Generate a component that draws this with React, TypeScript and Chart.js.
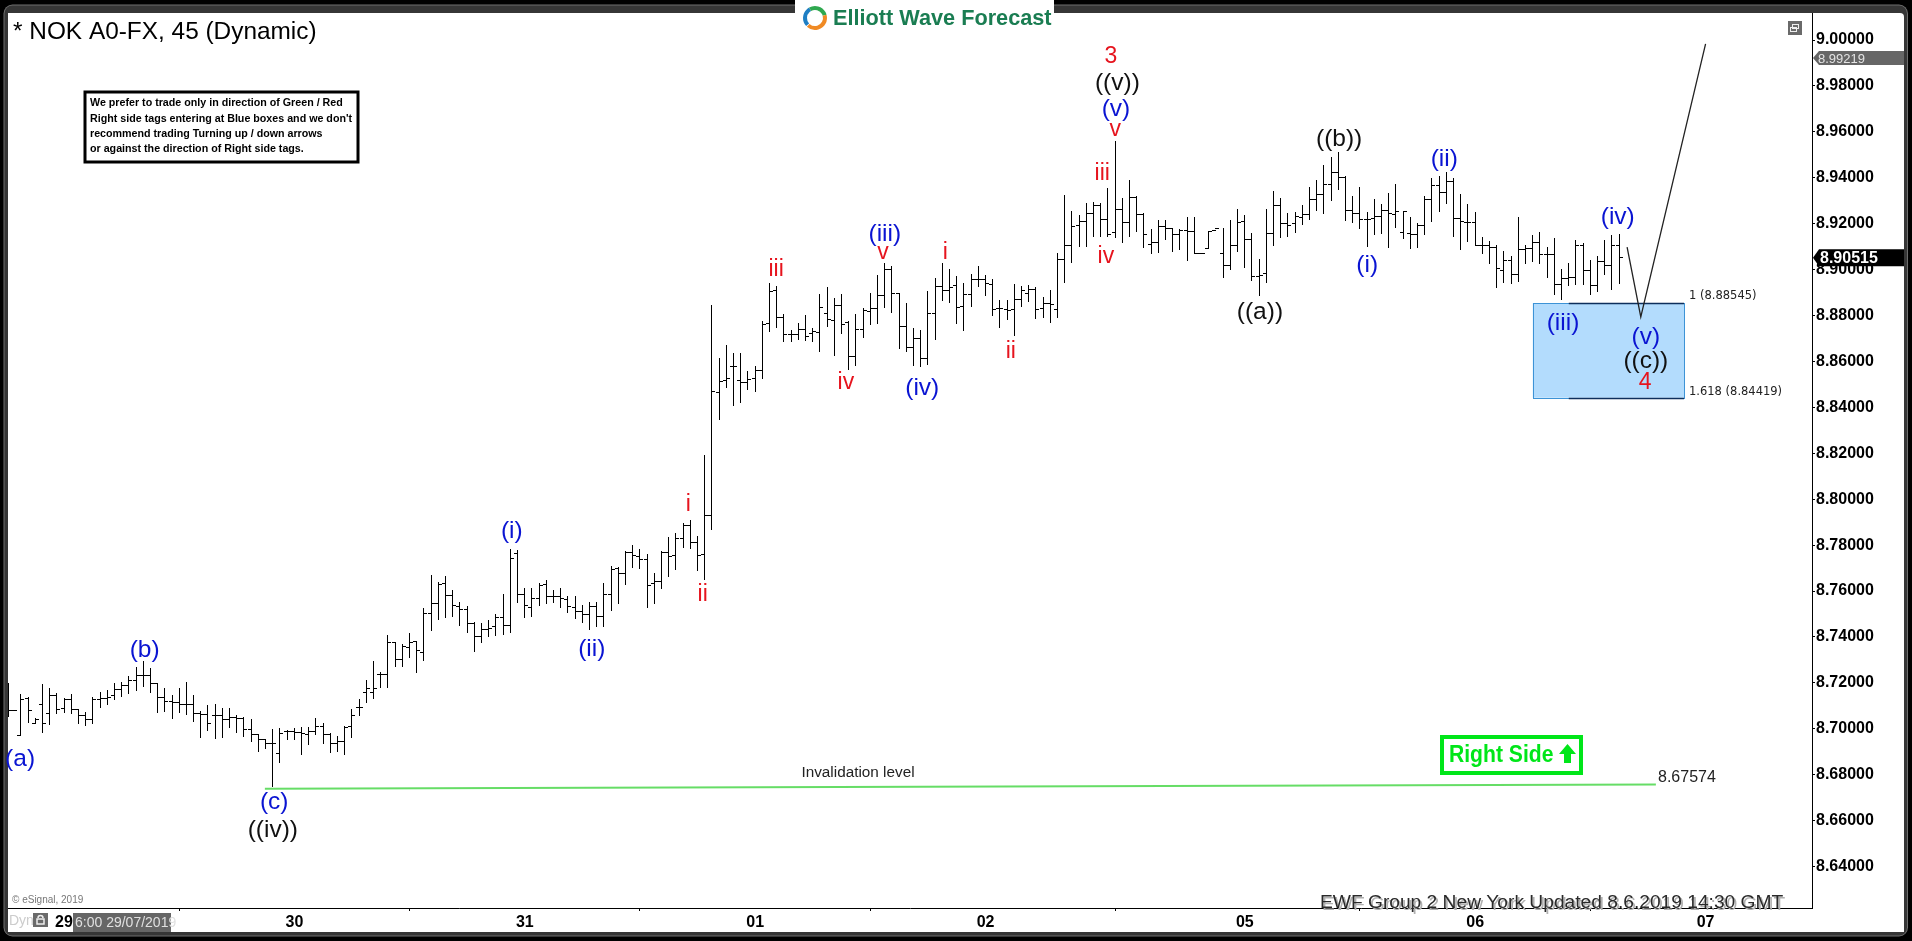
import React, { useEffect, useRef } from "react";
import { Chart, registerables } from "chart.js";

Chart.register(...registerables);

const highs = [
8.7198,8.7079,8.7152,8.7140,8.7046,8.7194,8.7176,8.7155,8.7133,8.7152,
8.7082,8.7075,8.7140,8.7162,8.7169,8.7198,8.7205,8.7230,8.7268,8.7295,
8.7263,8.7201,8.7176,8.7147,8.7176,8.7202,8.7147,8.7079,8.7104,8.7107,
8.7089,8.7089,8.7060,8.7053,8.7043,8.6973,8.6954,8.6998,8.7002,8.6995,
8.7002,8.7006,8.7009,8.7046,8.7027,8.6980,8.6969,8.7012,8.7085,8.7128,
8.7213,8.7296,8.7249,8.7409,8.7380,8.7370,8.7416,8.7383,8.7525,8.7670,
8.7638,8.7666,8.7605,8.7554,8.7535,8.7463,8.7460,8.7474,8.7499,8.7587,
8.7783,8.7779,8.7612,8.7615,8.7634,8.7648,8.7605,8.7612,8.7579,8.7579,
8.7539,8.7554,8.7551,8.7634,8.7709,8.7704,8.7775,8.7801,8.7783,8.7762,
8.7677,8.7775,8.7837,8.7852,8.7898,8.7910,8.7840,8.8193,8.8846,8.8614,
8.8672,8.8636,8.8636,8.8559,8.8580,8.8776,8.8941,8.8929,8.8807,8.8737,
8.8766,8.8803,8.8745,8.8894,8.8923,8.8875,8.8894,8.8774,8.8807,8.8832,
8.8897,8.8977,8.9028,8.9016,8.8897,8.8853,8.8745,8.8737,8.8907,8.8962,
8.9028,8.9002,8.8970,8.8941,8.8980,8.9016,8.8977,8.8958,8.8868,8.8868,
8.8938,8.8929,8.8933,8.8923,8.8879,8.8911,8.9074,8.9325,8.9257,8.9238,
8.9291,8.9293,8.9289,8.9357,8.9560,8.9313,8.9390,8.9322,8.9245,8.9177,
8.9216,8.9216,8.9183,8.9175,8.9230,8.9230,8.9071,8.9169,8.9180,8.9180,
8.9216,8.9264,8.9238,8.9161,8.9046,8.9264,8.9342,8.9313,8.9245,8.9249,
8.9281,8.9361,8.9390,8.9455,8.9489,8.9511,8.9408,8.9322,8.9361,8.9249,
8.9307,8.9284,8.9332,8.9373,8.9256,8.9230,8.9204,8.9320,8.9398,8.9408,
8.9424,8.9398,8.9330,8.9286,8.9253,8.9144,8.9126,8.9107,8.9081,8.9060,
8.9228,8.9107,8.9151,8.9163,8.9100,8.9137,8.9003,8.9028,8.9129,8.9118,
8.9042,8.9060,8.9129,8.9151,8.9155];

const lows = [
8.7050,8.7076,8.6972,8.7024,8.7021,8.6983,8.7017,8.7063,8.7067,8.7065,
8.7021,8.7012,8.7021,8.7089,8.7104,8.7126,8.7140,8.7152,8.7166,8.7184,
8.7157,8.7067,8.7075,8.7041,8.7067,8.7060,8.7028,8.6959,8.6990,8.6954,
8.6959,8.7002,8.6983,8.6963,8.6941,8.6900,8.6911,8.6748,8.6853,8.6951,
8.6951,8.6886,8.6929,8.6973,8.6934,8.6896,8.6900,8.6886,8.6958,8.7057,
8.7114,8.7130,8.7178,8.7178,8.7267,8.7271,8.7307,8.7242,8.7296,8.7428,
8.7474,8.7481,8.7489,8.7449,8.7419,8.7336,8.7373,8.7399,8.7402,8.7409,
8.7419,8.7547,8.7481,8.7486,8.7537,8.7544,8.7547,8.7525,8.7503,8.7477,
8.7460,8.7431,8.7442,8.7445,8.7515,8.7544,8.7627,8.7702,8.7698,8.7525,
8.7544,8.7608,8.7659,8.7692,8.7786,8.7783,8.7689,8.7648,8.7866,8.8345,
8.8486,8.8408,8.8421,8.8476,8.8469,8.8524,8.8730,8.8747,8.8686,8.8686,
8.8694,8.8691,8.8686,8.8639,8.8749,8.8625,8.8720,8.8563,8.8582,8.8701,
8.8759,8.8763,8.8832,8.8810,8.8655,8.8639,8.8580,8.8575,8.8585,8.8694,
8.8865,8.8856,8.8763,8.8734,8.8835,8.8926,8.8885,8.8798,8.8747,8.8781,
8.8711,8.8835,8.8861,8.8785,8.8790,8.8769,8.8788,8.8943,8.9027,8.9097,
8.9097,8.9143,8.9143,8.9140,8.9136,8.9117,8.9143,8.9165,8.9092,8.9066,
8.9071,8.9129,8.9078,8.9085,8.9039,8.9071,8.9071,8.9092,8.9175,8.8962,
8.8998,8.9078,8.9005,8.8952,8.8886,8.8943,8.9104,8.9136,8.9143,8.9161,
8.9194,8.9216,8.9257,8.9242,8.9299,8.9347,8.9212,8.9201,8.9177,8.9097,
8.9151,8.9153,8.9095,8.9180,8.9133,8.9090,8.9092,8.9151,8.9209,8.9253,
8.9285,8.9141,8.9086,8.9119,8.9107,8.9067,8.9023,8.8919,8.8941,8.8936,
8.8948,8.9023,8.9035,8.9023,8.8962,8.8890,8.8868,8.8930,8.8933,8.8933,
8.8890,8.8904,8.8977,8.8911,8.8936];

const opens = [
8.7082,8.7078,8.6972,8.7133,8.7024,8.7107,8.7067,8.7143,8.7089,8.7128,
8.7082,8.7060,8.7041,8.7128,8.7133,8.7147,8.7172,8.7187,8.7210,8.7230,
8.7230,8.7198,8.7137,8.7118,8.7114,8.7108,8.7104,8.7067,8.7063,8.7056,
8.7056,8.7041,8.7050,8.7046,8.6998,8.6973,8.6954,8.6937,8.6893,8.6988,
8.6988,8.6983,8.6973,8.6988,8.7009,8.6977,8.6937,8.6944,8.7009,8.7093,
8.7159,8.7160,8.7237,8.7237,8.7375,8.7303,8.7355,8.7380,8.7332,8.7500,
8.7547,8.7631,8.7579,8.7532,8.7521,8.7457,8.7404,8.7434,8.7445,8.7484,
8.7448,8.7762,8.7586,8.7528,8.7569,8.7627,8.7576,8.7576,8.7564,8.7529,
8.7510,8.7496,8.7532,8.7489,8.7586,8.7699,8.7675,8.7767,8.7750,8.7738,
8.7631,8.7641,8.7767,8.7753,8.7830,8.7884,8.7811,8.7757,8.7927,8.8466,
8.8515,8.8578,8.8517,8.8509,8.8524,8.8559,8.8766,8.8907,8.8792,8.8718,
8.8718,8.8740,8.8720,8.8726,8.8807,8.8778,8.8843,8.8769,8.8621,8.8740,
8.8817,8.8832,8.8887,8.8999,8.8897,8.8752,8.8662,8.8701,8.8611,8.8810,
8.8926,8.8907,8.8929,8.8839,8.8890,8.8959,8.8958,8.8933,8.8832,8.8827,
8.8827,8.8868,8.8894,8.8912,8.8831,8.8853,8.8827,8.9042,8.9103,8.9190,
8.9209,8.9245,8.9281,8.9219,8.9161,8.9262,8.9206,8.9313,8.9242,8.9111,
8.9117,8.9187,8.9180,8.9151,8.9169,8.9165,8.9071,8.9092,8.9172,8.9068,
8.9017,8.9103,8.9209,8.9133,8.8972,8.8984,8.9158,8.9278,8.9201,8.9201,
8.9228,8.9238,8.9306,8.9328,8.9371,8.9422,8.9400,8.9259,8.9245,8.9220,
8.9223,8.9230,8.9259,8.9241,8.9161,8.9158,8.9151,8.9194,8.9306,8.9365,
8.9335,8.9383,8.9224,8.9205,8.9205,8.9103,8.9107,8.9097,8.8996,8.9039,
8.8977,8.9089,8.9093,8.9118,8.9067,8.9067,8.8933,8.8962,8.8967,8.9103,
8.8996,8.8929,8.9035,8.9017,8.9107];

const closes = [
8.7078,8.7078,8.7128,8.7078,8.7041,8.7024,8.7143,8.7085,8.7126,8.7082,
8.7060,8.7041,8.7126,8.7133,8.7137,8.7172,8.7187,8.7210,8.7230,8.7230,
8.7198,8.7137,8.7118,8.7114,8.7108,8.7104,8.7067,8.7063,8.7024,8.7056,
8.7041,8.7050,8.7046,8.6998,8.6973,8.6954,8.6934,8.6934,8.6980,8.6988,
8.6983,8.6980,8.6988,8.7012,8.6977,8.6937,8.6944,8.7006,8.7056,8.7093,
8.7176,8.7176,8.7237,8.7375,8.7300,8.7358,8.7375,8.7341,8.7500,8.7547,
8.7627,8.7579,8.7535,8.7518,8.7457,8.7404,8.7434,8.7438,8.7484,8.7448,
8.7743,8.7586,8.7539,8.7569,8.7622,8.7576,8.7576,8.7569,8.7532,8.7513,
8.7496,8.7532,8.7489,8.7586,8.7695,8.7675,8.7767,8.7753,8.7738,8.7622,
8.7641,8.7767,8.7750,8.7830,8.7884,8.7811,8.7754,8.7927,8.8467,8.8512,
8.8524,8.8578,8.8509,8.8522,8.8559,8.8759,8.8904,8.8792,8.8718,8.8718,
8.8740,8.8708,8.8730,8.8836,8.8781,8.8843,8.8762,8.8621,8.8740,8.8820,
8.8832,8.8887,8.8999,8.8897,8.8752,8.8662,8.8701,8.8614,8.8807,8.8926,
8.8907,8.8923,8.8836,8.8890,8.8959,8.8958,8.8941,8.8827,8.8832,8.8824,
8.8868,8.8907,8.8914,8.8827,8.8853,8.8850,8.9042,8.9103,8.9187,8.9209,
8.9245,8.9281,8.9219,8.9155,8.9262,8.9206,8.9313,8.9242,8.9151,8.9117,
8.9187,8.9180,8.9151,8.9172,8.9165,8.9071,8.9071,8.9168,8.9177,8.9017,
8.9107,8.9206,8.9133,8.8972,8.8976,8.9158,8.9278,8.9201,8.9191,8.9230,
8.9238,8.9306,8.9328,8.9371,8.9422,8.9400,8.9259,8.9245,8.9220,8.9219,
8.9230,8.9259,8.9245,8.9253,8.9252,8.9151,8.9194,8.9306,8.9365,8.9335,
8.9383,8.9224,8.9209,8.9205,8.9107,8.9107,8.9097,8.9006,8.9039,8.8977,
8.9089,8.9093,8.9118,8.9067,8.9067,8.8933,8.8962,8.8967,8.9103,8.8996,
8.8929,8.9035,8.9017,8.9107,8.9052];

const dateTickBars = [8, 40, 72, 104, 136, 172, 204, 236];
const dateTickLabels = ["29", "30", "31", "01", "02", "05", "06", "07"];
const priceTicks = [8.64,8.66,8.68,8.70,8.72,8.74,8.76,8.78,8.80,8.82,8.84,8.86,8.88,8.90,8.92,8.94,8.96,8.98,9.00];

const BLUE = "#0a14d2";
const RED = "#e6141e";
const BLACK = "#111111";
const waveTexts = ["(a)","(b)","(c)","((iv))","(i)","(ii)","i","ii","iii","(iii)","v","iv","(iv)","i","ii","3","((v))","(v)","v","iii","iv","((a))","((b))","(i)","(ii)","(iv)","(iii)","(v)","((c))","4"];
const waveBars = [1.9,19.2,37.2,37.0,70.2,81.3,94.7,96.7,106.9,122.0,121.75,116.6,127.2,130.4,139.5,153.4,154.3,154.1,154.0,152.2,152.7,174.1,185.1,189.0,199.7,223.8,216.2,227.7,227.7,227.6];
const wavePrices = [8.6873,8.7348,8.6686,8.6564,8.7866,8.7352,8.7979,8.7587,8.9003,8.9159,8.9077,8.8510,8.8489,8.9077,8.8645,8.9930,8.9817,8.9704,8.9612,8.9421,8.9059,8.8820,8.9573,8.9024,8.9486,8.9233,8.8772,8.8711,8.8606,8.8510];
const waveColors = [BLUE,BLUE,BLUE,BLACK,BLUE,BLUE,RED,RED,RED,BLUE,RED,RED,BLUE,RED,RED,RED,BLACK,BLUE,RED,RED,RED,BLACK,BLACK,BLUE,BLUE,BLUE,BLUE,BLUE,BLACK,RED];

const projectionBars = [225.1, 227.0, 236.0];
const projectionPrices = [8.9098, 8.8794, 8.9983];
const invalidationBars = [35.9, 229.1];
const invalidationPrices = [8.6739, 8.67574];
const invalidationValue = "8.67574";
const boxStartBar = 212;
const boxLineBar = 217;
const boxEndBar = 233;
const fibTop = 8.88545;
const fibBottom = 8.84419;
const lastPrice = 8.90515;
const dynPrice = 8.99219;
const disclaimer = [
  "We prefer to trade only in direction of Green / Red",
  "Right side tags entering at Blue boxes and we don't",
  "recommend trading Turning up / down arrows",
  "or against the direction of Right side tags.",
];

const SANS = '"Liberation Sans", Arial, sans-serif';

function tickImage(left: boolean) {
  const c = document.createElement("canvas");
  c.width = 7;
  c.height = 1;
  const g = c.getContext("2d")!;
  g.fillStyle = "#000";
  g.fillRect(left ? 0 : 3, 0, 4, 1);
  return c;
}

const snapPlugin = {
  id: "snap",
  afterDatasetsUpdate(chart: any) {
    chart.data.datasets.forEach((ds: any, i: number) => {
      if (!ds.snap) return;
      chart.getDatasetMeta(i).data.forEach((el: any) => {
        el.x = Math.round(el.x - 0.5) + 0.5;
        if (ds.snap === "bar") {
          el.y = Math.round(el.y);
          el.base = Math.round(el.base);
        } else {
          el.y = Math.round(el.y - 0.5) + 0.5;
        }
      });
    });
  },
};

const framePlugin = {
  id: "frame",
  beforeDraw(chart: any) {
    const c = chart.ctx;
    c.save();
    c.fillStyle = "#000";
    c.fillRect(0, 0, 1912, 941);
    c.fillStyle = "#6e6e6e";
    c.beginPath();
    c.roundRect(3.5, 4.5, 1904.5, 932, 9);
    c.fill();
    c.fillStyle = "#363636";
    c.beginPath();
    c.roundRect(4.5, 5.5, 1902.5, 930, 8);
    c.fill();
    c.fillStyle = "#fff";
    c.beginPath();
    c.roundRect(8, 13, 1896, 919, [0, 4, 0, 0]);
    c.fill();
    c.restore();
  },
  beforeDatasetsDraw(chart: any) {
    const c = chart.ctx;
    const x = chart.scales.x;
    const y = chart.scales.y;
    const l = x.getPixelForValue(boxStartBar);
    const m = x.getPixelForValue(boxLineBar);
    const r = x.getPixelForValue(boxEndBar);
    const t = y.getPixelForValue(fibTop);
    const b = y.getPixelForValue(fibBottom);
    c.save();
    c.fillStyle = "#b3dcfd";
    c.strokeStyle = "#3d93d6";
    c.lineWidth = 1;
    c.fillRect(l, t, r - l, b - t);
    c.strokeRect(Math.round(l) + 0.5, Math.round(t) + 0.5, Math.round(r - l), Math.round(b - t));
    c.strokeStyle = "#0d2f5c";
    c.lineWidth = 1.5;
    [t, b].forEach((v) => {
      c.beginPath();
      c.moveTo(m, Math.round(v) + 0.5);
      c.lineTo(r, Math.round(v) + 0.5);
      c.stroke();
    });
    c.restore();
  },
  afterDraw(chart: any) {
    const c = chart.ctx;
    const x = chart.scales.x;
    const y = chart.scales.y;
    c.save();
    c.textBaseline = "middle";
    c.textAlign = "center";

    waveTexts.forEach((t, i) => {
      c.font = `${waveColors[i] === RED ? 23 : 24.5}px ${SANS}`;
      c.fillStyle = waveColors[i];
      c.fillText(t, x.getPixelForValue(waveBars[i]), y.getPixelForValue(wavePrices[i]) + 1);
    });

    c.textAlign = "left";
    c.fillStyle = "#000";
    c.font = `24.4px ${SANS}`;
    c.fillText("* NOK A0-FX, 45 (Dynamic)", 13, 32);

    c.fillStyle = "#fff";
    c.strokeStyle = "#000";
    c.lineWidth = 3;
    c.fillRect(85, 92, 273, 70);
    c.strokeRect(85, 92, 273, 70);
    c.fillStyle = "#000";
    c.font = `bold 10.7px ${SANS}`;
    disclaimer.forEach((t, i) => c.fillText(t, 90, 103.5 + i * 15.2));

    c.font = `15.3px ${SANS}`;
    c.fillStyle = "#222";
    c.textAlign = "center";
    c.fillText("Invalidation level", 858, y.getPixelForValue(8.6827) + 4);
    c.textAlign = "left";
    c.font = `16px ${SANS}`;
    c.fillText(invalidationValue, 1658, y.getPixelForValue(invalidationPrices[1]) - 7);

    c.font = `11.5px "DejaVu Sans", sans-serif`;
    c.fillStyle = "#222";
    c.fillText(`1 (${fibTop})`, 1689, y.getPixelForValue(fibTop) - 7);
    c.fillText(`1.618 (${fibBottom})`, 1689, y.getPixelForValue(fibBottom) - 6);

    // Right Side tag
    c.strokeStyle = "#00e619";
    c.lineWidth = 4;
    c.strokeRect(1442, 737, 139, 36);
    c.fillStyle = "#00e619";
    c.save();
    c.translate(1449, 755.5);
    c.scale(0.88, 1);
    c.font = `bold 24px ${SANS}`;
    c.fillText("Right Side", 0, 0);
    c.restore();
    c.beginPath();
    c.moveTo(1567.5, 744);
    c.lineTo(1576, 754);
    c.lineTo(1571, 754);
    c.lineTo(1571, 763);
    c.lineTo(1564, 763);
    c.lineTo(1564, 754);
    c.lineTo(1559, 754);
    c.closePath();
    c.fill();

    // footer text
    c.font = `19.2px ${SANS}`;
    c.fillStyle = "#b0b0b0";
    c.fillText("EWF Group 2 New York Updated 8.6.2019 14:30 GMT", 1322, 905);
    c.fillStyle = "#2a2a2a";
    c.fillText("EWF Group 2 New York Updated 8.6.2019 14:30 GMT", 1320, 903);

    c.font = `10px ${SANS}`;
    c.fillStyle = "#777";
    c.fillText("© eSignal, 2019", 12, 900);

    c.font = `14px ${SANS}`;
    c.fillStyle = "#ccc";
    c.fillText("Dyn", 9, 921);
    c.fillStyle = "#6a6a6a";
    c.fillRect(33, 913, 15, 14);
    c.strokeStyle = "#eee";
    c.lineWidth = 1.5;
    c.strokeRect(37, 919, 7, 5);
    c.beginPath();
    c.arc(40.5, 918, 2.5, Math.PI, 0);
    c.stroke();
    c.fillStyle = "#666";
    c.fillRect(73, 913, 98, 19);
    c.fillStyle = "#e0e0e0";
    c.font = `14px ${SANS}`;
    c.fillText("6:00 29/07/2019", 75, 923);

    // restore icon
    c.fillStyle = "#6a6a6a";
    c.fillRect(1788, 21, 14, 14);
    c.strokeStyle = "#eee";
    c.lineWidth = 1;
    c.strokeRect(1792.5, 24.5, 6, 4);
    c.strokeRect(1790.5, 27.5, 6, 4);

    // price tags
    const tag = (v: number, h: number, fill: string) => {
      const py = y.getPixelForValue(v);
      c.fillStyle = fill;
      c.beginPath();
      c.moveTo(1813, py);
      c.lineTo(1819, py - h);
      c.lineTo(1904, py - h);
      c.lineTo(1904, py + h);
      c.lineTo(1819, py + h);
      c.closePath();
      c.fill();
      return py;
    };
    const gy = tag(dynPrice, 7, "#666");
    c.fillStyle = "#e4e4e4";
    c.font = `13px ${SANS}`;
    c.fillText(dynPrice.toFixed(5), 1818, gy + 1);
    const by = tag(lastPrice, 8.5, "#000");
    c.fillStyle = "#fff";
    c.font = `bold 16px ${SANS}`;
    c.fillText(lastPrice.toFixed(5), 1820, by + 1);

    // logo
    c.fillStyle = "#fff";
    c.beginPath();
    c.roundRect(795, 0, 259, 33, [0, 0, 5, 5]);
    c.fill();
    c.lineWidth = 4;
    const arcs: [string, number, number][] = [["#1f7fc4", 2.4, 4.2], ["#2fa84f", 4.2, 6.0], ["#f08a24", 6.0, 8.6]];
    arcs.forEach(([col, a, e]) => {
      c.strokeStyle = col;
      c.beginPath();
      c.arc(815, 18, 10, a, e);
      c.stroke();
    });
    c.fillStyle = "#1a7d52";
    c.font = `bold 21.7px ${SANS}`;
    c.fillText("Elliott Wave Forecast", 833, 19);
    c.restore();
  },
};

export default function App() {
  const ref = useRef<HTMLCanvasElement>(null);
  useEffect(() => {
    const barX = highs.map((_, i) => (i === 0 ? 0.25 : i));
    const chart = new Chart(ref.current!, {
      type: "bar",
      plugins: [snapPlugin, framePlugin],
      data: {
        datasets: [
          {
            type: "bar",
            data: barX.map((x, i) => ({ x, y: [lows[i], highs[i]] })),
            backgroundColor: "#000",
            barThickness: 1,
            inflateAmount: 0,
            grouped: false,
            order: 3,
            snap: "bar",
          },
          {
            type: "line",
            data: barX.map((x, i) => ({ x, y: opens[i] })),
            showLine: false,
            pointStyle: tickImage(true),
            pointRadius: 3,
            order: 2,
            snap: "point",
          },
          {
            type: "line",
            data: barX.map((x, i) => ({ x, y: closes[i] })),
            showLine: false,
            pointStyle: tickImage(false),
            pointRadius: 3,
            order: 2,
            snap: "point",
          },
          {
            type: "line",
            data: invalidationBars.map((x, i) => ({ x, y: invalidationPrices[i] })),
            borderColor: "#66dd66",
            borderWidth: 2,
            pointRadius: 0,
            order: 1,
          },
          {
            type: "line",
            data: projectionBars.map((x, i) => ({ x, y: projectionPrices[i] })),
            borderColor: "#222",
            borderWidth: 1.3,
            pointRadius: 0,
            order: 1,
          },
        ] as any,
      },
      options: {
        animation: false,
        responsive: false,
        devicePixelRatio: 1,
        events: [],
        layout: { padding: { left: 8, right: 8, top: 13, bottom: 9 } },
        plugins: { legend: { display: false }, tooltip: { enabled: false } },
        scales: {
          x: {
            type: "linear",
            min: 0.222,
            max: 250.78,
            offset: false,
            grid: { display: true, drawOnChartArea: false, drawTicks: true, tickLength: 3, color: "#000" },
            border: { color: "#000", width: 1 },
            afterBuildTicks: (a: any) => {
              a.ticks = dateTickBars.map((value) => ({ value }));
            },
            afterFit: (a: any) => {
              a.height = 24;
            },
            ticks: {
              autoSkip: false,
              maxRotation: 0,
              padding: 2,
              color: "#000",
              font: { family: "Liberation Sans", weight: "bold", size: 16 },
              callback: (v: any) => dateTickLabels[dateTickBars.indexOf(v)],
            },
          },
          y: {
            position: "right",
            min: 8.62195,
            max: 9.01176,
            grid: { display: true, drawOnChartArea: false, drawTicks: true, tickLength: 3, color: "#000" },
            border: { color: "#000", width: 1 },
            afterBuildTicks: (a: any) => {
              a.ticks = priceTicks.map((value) => ({ value }));
            },
            afterFit: (a: any) => {
              a.width = 92;
            },
            ticks: {
              autoSkip: false,
              padding: 1,
              color: "#000",
              font: { family: "Liberation Sans", weight: "bold", size: 16 },
              callback: (v: any) => Number(v).toFixed(5),
            },
          },
        },
      } as any,
    });
    return () => chart.destroy();
  }, []);
  return (
    <canvas
      ref={ref}
      width={1912}
      height={941}
      style={{ position: "fixed", left: 0, top: 0, width: 1912, height: 941, display: "block" }}
    />
  );
}
